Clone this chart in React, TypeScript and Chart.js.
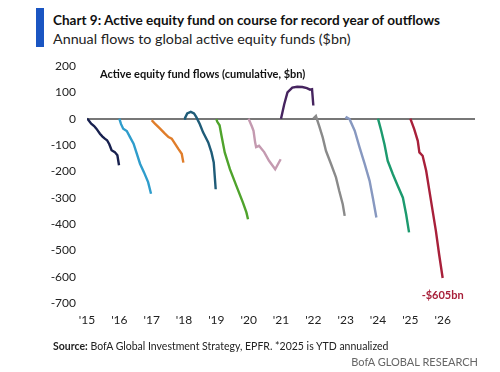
import React, { useEffect, useRef } from 'react';
import { Chart, registerables } from 'chart.js';

Chart.register(...registerables);

const titleText = 'Chart 9: Active equity fund on course for record year of outflows';
const subtitleText = 'Annual flows to global active equity funds ($bn)';
const innerTitle = 'Active equity fund flows (cumulative, $bn)';
const sourceLabel = 'Source:';
const sourceText = ' BofA Global Investment Strategy, EPFR. *2025 is YTD annualized';
const brandText = 'BofA GLOBAL RESEARCH';
const endLabel = '-$605bn';
const endLabelYear = 2026;
const endLabelValue = -605;

const years = [2015, 2016, 2017, 2018, 2019, 2020, 2021, 2022, 2023, 2024, 2025];
const yTicks = [200, 100, 0, -100, -200, -300, -400, -500, -600, -700];
const xMin = 2015;
const xMax = 2027;

// [fraction of year elapsed, cumulative flow $bn]
const flows2015 = [[0, 0], [0.05, -6], [0.13, -19], [0.22, -28], [0.29, -38], [0.4, -57], [0.48, -68], [0.55, -76], [0.62, -82], [0.69, -97], [0.76, -120], [0.86, -127], [0.94, -139], [0.99, -177]];
const flows2016 = [[0, 0], [0.05, -20], [0.12, -38], [0.23, -47], [0.33, -70], [0.44, -95], [0.54, -133], [0.64, -171], [0.76, -203], [0.89, -241], [0.98, -285]];
const flows2017 = [[0, -6], [0.1, -19], [0.26, -38], [0.41, -57], [0.52, -70], [0.62, -76], [0.72, -95], [0.82, -114], [0.93, -133], [0.98, -167]];
const flows2018 = [[0, 0], [0.03, 2], [0.1, 20], [0.21, 26], [0.31, 20], [0.39, 4], [0.49, -21], [0.59, -52], [0.75, -90], [0.85, -128], [0.92, -166], [0.95, -217], [0.98, -268]];
const flows2019 = [[0, -2], [0.03, -12], [0.1, -25], [0.16, -65], [0.26, -128], [0.42, -192], [0.62, -255], [0.82, -318], [0.93, -356], [0.98, -382]];
const flows2020 = [[0, 0], [0.03, -10], [0.1, -30], [0.15, -46], [0.2, -90], [0.23, -108], [0.32, -103], [0.48, -127], [0.63, -160], [0.82, -192], [0.99, -154]];
const flows2021 = [[0, 0], [0.1, 55], [0.2, 100], [0.35, 118], [0.5, 121], [0.66, 120], [0.8, 116], [0.9, 110], [0.96, 112], [1.0, 50]];
const flows2022 = [[0, 0], [0.08, 10], [0.18, -27], [0.29, -71], [0.39, -122], [0.55, -173], [0.7, -223], [0.8, -274], [0.91, -325], [0.97, -369]];
const flows2023 = [[0, 0], [0.03, 5], [0.12, -2], [0.28, -46], [0.43, -109], [0.59, -173], [0.74, -236], [0.84, -300], [0.95, -375]];
const flows2024 = [[0, 0], [0.1, -46], [0.2, -97], [0.3, -160], [0.46, -211], [0.61, -255], [0.77, -300], [0.87, -363], [0.96, -432]];
const flows2025 = [[0, 0], [0.12, -40], [0.23, -84], [0.28, -128], [0.38, -141], [0.49, -198], [0.59, -274], [0.69, -350], [0.79, -426], [0.89, -515], [1.0, -605]];

const allFlows = [flows2015, flows2016, flows2017, flows2018, flows2019, flows2020, flows2021, flows2022, flows2023, flows2024, flows2025];
const seriesColors = ['#18214f', '#2f9dcc', '#e07d2a', '#1f5c78', '#4fa32c', '#c49ab0', '#46245f', '#8a8a8a', '#8798c0', '#1c9a6e', '#a8203a'];

const FONT = "Lato, 'Open Sans', sans-serif";

const endLabelPlugin = {
  id: 'endLabel',
  afterDatasetsDraw(chart: any) {
    const { ctx, scales } = chart;
    const x = scales.x.getPixelForValue(endLabelYear);
    const y = scales.y.getPixelForValue(endLabelValue) + 17;
    ctx.save();
    ctx.font = `bold 11px ${FONT}`;
    ctx.fillStyle = '#a8203a';
    ctx.textAlign = 'center';
    ctx.textBaseline = 'middle';
    ctx.fillText(endLabel, x, y);
    ctx.restore();
  },
};

export default function App() {
  const canvasRef = useRef<HTMLCanvasElement | null>(null);

  useEffect(() => {
    document.body.style.margin = '0';
    const canvas = canvasRef.current;
    if (!canvas) return;
    const datasets = allFlows.map((pts, i) => ({
      label: String(years[i]),
      data: pts.map(([f, v]) => ({ x: years[i] + f, y: v })),
      borderColor: seriesColors[i],
      backgroundColor: seriesColors[i],
      borderWidth: 2.4,
      pointRadius: 0,
      tension: 0,
      fill: false,
    }));
    const chart = new Chart(canvas, {
      type: 'line',
      data: { datasets },
      plugins: [endLabelPlugin],
      options: {
        animation: false,
        responsive: false,
        maintainAspectRatio: false,
        layout: { padding: { left: 0, right: 25, top: 66, bottom: 0 } },
        plugins: { legend: { display: false }, tooltip: { enabled: false }, title: { display: false } },
        scales: {
          x: {
            type: 'linear',
            min: xMin,
            max: xMax,
            grid: { display: false, drawTicks: false },
            border: { display: false },
            afterFit: (s: any) => { s.height = 69; },
            afterBuildTicks: (s: any) => {
              s.ticks = [];
              for (let v = xMin; v <= xMax; v++) s.ticks.push({ value: v });
            },
            ticks: {
              padding: 10,
              maxRotation: 0,
              autoSkip: false,
              color: '#222',
              font: { family: FONT, size: 12 },
              callback: (v: any) => (Number(v) >= xMax ? '' : "'" + String(v).slice(2)),
            },
          },
          y: {
            min: -700,
            max: 200,
            afterFit: (s: any) => { s.width = 87; },
            afterBuildTicks: (s: any) => { s.ticks = yTicks.map((v) => ({ value: v })); },
            grid: {
              drawTicks: false,
              color: (c: any) => (c.tick && c.tick.value === 0 ? '#777777' : 'rgba(0,0,0,0)'),
              lineWidth: (c: any) => (c.tick && c.tick.value === 0 ? 2 : 0),
            },
            border: { display: false },
            ticks: {
              padding: 11,
              color: '#222',
              font: { family: FONT, size: 12 },
            },
          },
        },
      },
    });
    return () => chart.destroy();
  }, []);

  return (
    <div style={{ position: 'relative', width: 500, height: 372, background: '#fff', overflow: 'hidden', fontFamily: FONT }}>
      <div style={{ position: 'absolute', left: 36, top: 8, width: 8, height: 39, background: '#1a55c2' }} />
      <div style={{ position: 'absolute', left: 53, top: 10, fontSize: 13.55, fontWeight: 700, color: '#111', whiteSpace: 'nowrap', lineHeight: '20px' }}>{titleText}</div>
      <div style={{ position: 'absolute', left: 53, top: 29, fontSize: 14.3, color: '#222', whiteSpace: 'nowrap', lineHeight: '20px' }}>{subtitleText}</div>
      <canvas ref={canvasRef} width={500} height={372} style={{ position: 'absolute', left: 0, top: 0, width: 500, height: 372 }} />
      <div style={{ position: 'absolute', left: 100, top: 67, fontSize: 11, fontWeight: 700, color: '#111', whiteSpace: 'nowrap', lineHeight: '14px' }}>{innerTitle}</div>
      <div style={{ position: 'absolute', left: 53, top: 339, fontSize: 10.5, color: '#222', whiteSpace: 'nowrap', lineHeight: '14px' }}>
        <b>{sourceLabel}</b>{sourceText}
      </div>
      <div style={{ position: 'absolute', right: 22, top: 355, fontSize: 11, color: '#666', whiteSpace: 'nowrap', lineHeight: '14px' }}>{brandText}</div>
    </div>
  );
}
